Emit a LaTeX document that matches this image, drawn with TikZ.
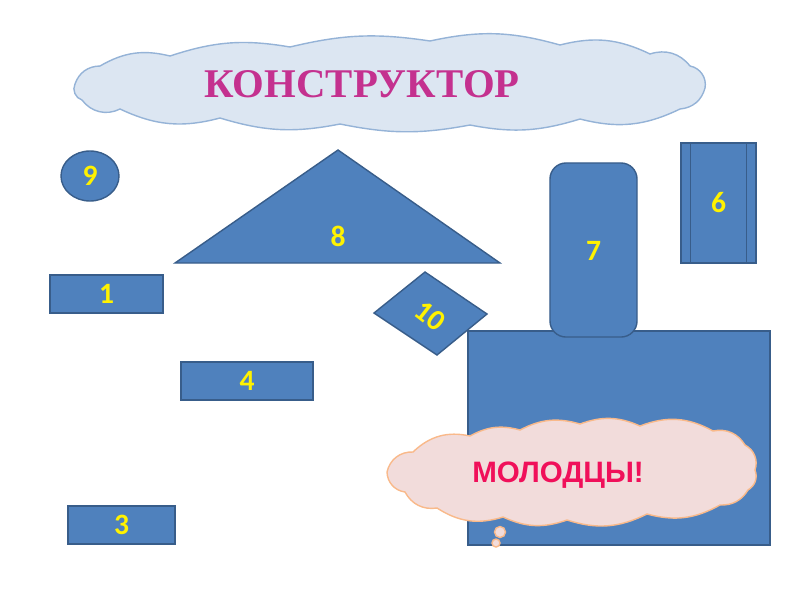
\documentclass[tikz,border=0pt]{standalone}
\usepackage{fontspec}
\setmainfont{Liberation Serif}
\setsansfont{Liberation Sans}
\newfontfamily\numfont{Carlito}
\usetikzlibrary{shapes.geometric}
\definecolor{piece}{HTML}{4F81BD}
\definecolor{pieceline}{HTML}{385D8A}
\definecolor{skyfill}{HTML}{DCE6F2}
\definecolor{skyline}{HTML}{95B3D7}
\definecolor{pinkfill}{HTML}{F2DCDB}
\definecolor{peachline}{HTML}{F9B98A}
\definecolor{titlecol}{HTML}{C4318F}
\definecolor{praisecol}{HTML}{F0105A}
\begin{document}
\begin{tikzpicture}[
    x=0.025cm, y=-0.025cm,
    piece/.style={draw=pieceline, fill=piece, line width=1pt},
    bar/.style={piece, minimum height=0.95cm, inner sep=0pt},
    num/.style={text=yellow, font=\numfont\bfseries\fontsize{21}{21}\selectfont},
    puff/.style={bend left=#1},
    skycloud/.style={draw=skyline, fill=skyfill, line width=1pt},
    pinkcloud/.style={draw=peachline, fill=pinkfill, line width=1pt}
]
\useasboundingbox (0,0) rectangle (800,600);

% --- TITLE ---
\draw[skycloud] (75,84) to[puff=35] (100,66) to[puff=22] (170,56) to[puff=14] (290,47)
    to[puff=11] (430,41) to[puff=14] (560,45) to[puff=20] (650,54) to[puff=35] (690,66)
    to[puff=45] (705,88) to[puff=35] (680,109) to[puff=20] (580,119) to[puff=14] (470,125)
    to[puff=11] (340,124) to[puff=14] (220,118) to[puff=20] (120,109) to[puff=40] (82,100)
    to[puff=50] cycle;
\node[text=titlecol, font=\bfseries\fontsize{29}{29}\selectfont] (title) at (362,84) {КОНСТРУКТОР};

% --- BASE ---
\node[piece, minimum width=7.55cm, minimum height=5.35cm] (base) at (619,438) {};

% --- PIECES ---
\node[piece, ellipse, minimum width=1.45cm, minimum height=1.25cm, inner sep=0pt] (p9) at (90,176) {};
\node[num] at (p9) {9};

\draw[piece] (175,263) -- (338,150) -- (500,263) -- cycle;
\node[num] (p8) at (338,236) {8};

\node[bar, minimum width=2.825cm] (p1) at (106.5,294) {};
\node[num] at (p1) {1};

\node[bar, minimum width=3.3cm] (p4) at (247,381) {};
\node[num] at (p4) {4};

\node[bar, minimum width=2.675cm] (p3) at (121.5,525) {};
\node[num] at (p3) {3};

\draw[piece] (425,272) -- (487,314) -- (437,355) -- (374,313) -- cycle;
\node[num, rotate=-38, inner sep=0pt] (p10) at (430,316) {10};

\node[piece, rounded corners=0.4cm, minimum width=2.175cm, minimum height=4.35cm] (p7) at (593.5,250) {};
\node[num] at ([yshift=-1pt]p7) {7};

\node[piece, minimum width=1.875cm, minimum height=3cm] (p6) at (718.5,203) {};
\draw[pieceline, line width=1pt] ([xshift=0.25cm]p6.north west) -- ([xshift=0.25cm]p6.south west);
\draw[pieceline, line width=1pt] ([xshift=-0.25cm]p6.north east) -- ([xshift=-0.25cm]p6.south east);
\node[num] at (p6) {6};

% --- PRAISE ---
\draw[pinkcloud] (387,472) to[puff=40] (413,452) to[puff=28] (470,436) to[puff=22] (520,430)
    to[puff=22] (580,424) to[puff=22] (640,426) to[puff=25] (713,431) to[puff=35] (745,445)
    to[puff=40] (755,470) to[puff=40] (748,490) to[puff=30] (720,505) to[puff=22] (647,514)
    to[puff=22] (567,520) to[puff=22] (503,517) to[puff=25] (437,508) to[puff=35] (405,492)
    to[puff=40] cycle;
\draw[pinkcloud] (500,532) circle[radius=5.5];
\draw[pinkcloud] (496,543) circle[radius=4];
\node[text=praisecol, font=\sffamily\bfseries\fontsize{21}{21}\selectfont] (praise) at (558,475) {МОЛОДЦЫ!};

\end{tikzpicture}
\end{document}
